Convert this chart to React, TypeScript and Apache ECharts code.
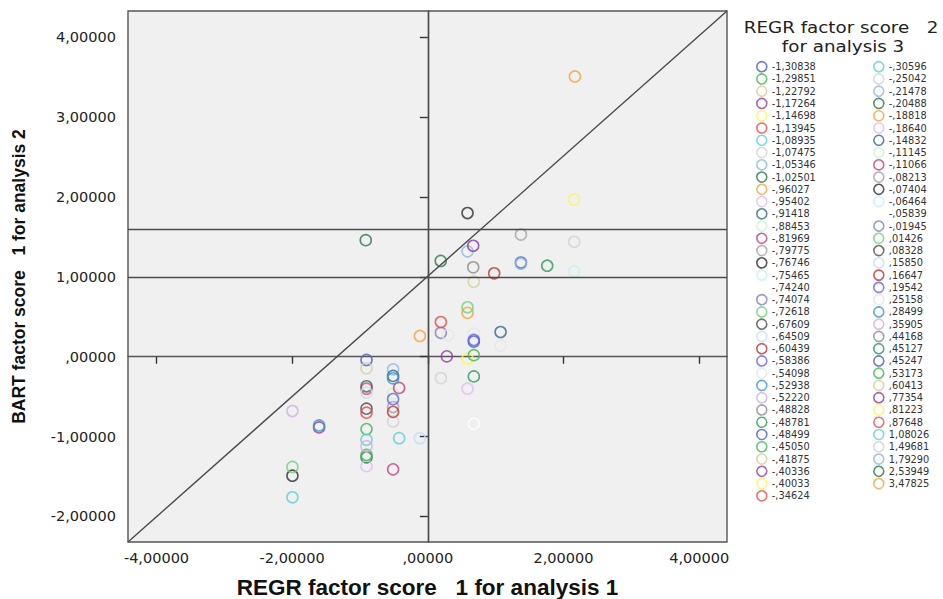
import React, { useEffect, useRef } from "react";
import * as echarts from "echarts";

// Legend groups (REGR factor score 2 for analysis 3)
const groupLabels: string[] = [
  "-1,30838", "-1,29851", "-1,22792", "-1,17264", "-1,14698", "-1,13945", "-1,08935", "-1,07475",
  "-1,05346", "-1,02501", "-,96027", "-,95402", "-,91418", "-,88453", "-,81969", "-,79775",
  "-,76746", "-,75465", "-,74240", "-,74074", "-,72618", "-,67609", "-,64509", "-,60439",
  "-,58386", "-,54098", "-,52938", "-,52220", "-,48828", "-,48781", "-,48499", "-,45050",
  "-,41875", "-,40336", "-,40033", "-,34624",
  "-,30596", "-,25042", "-,21478", "-,20488", "-,18818", "-,18640", "-,14832", "-,11145",
  "-,11066", "-,08213", "-,07404", "-,06464", "-,05839", "-,01945", ",01426", ",08328",
  ",15850", ",16647", ",19542", ",25158", ",28499", ",35905", ",44168", ",45127",
  ",45247", ",53173", ",60413", ",77354", ",81223", ",87648", "1,08026", "1,49681",
  "1,79290", "2,53949", "3,47825",
];
const leftColumnCount = 36;

// SPSS marker colour cycle (30 colours)
const groupColors: string[] = [
  "#4a5cc4", "#3cba50", "#d4cf9c", "#8e3c9e", "#f6f65e", "#f04848", "#5ed0d0", "#d2d2d2",
  "#8fb6e6", "#2a7a4a", "#f5a23e", "#e2bcf4", "#2e6a88", "#ccf4cc", "#c4407c", "#a4a4a4",
  "#303030", "#c4f0f0", "#ffffff", "#8282bc", "#6cd47c", "#4e4e4e", "#c6dcf8", "#c03434",
  "#6464f0", "#e6e6e6", "#3a96c6", "#d0b0e0", "#8c8c8c", "#2e9a5c",
];

// Scatter points: group index, x (REGR factor score 1 analysis 1), y (BART factor score 1 analysis 2)
const pointGroup: number[] = [
  0, 1, 2, 3, 4, 5, 6, 7, 8, 9, 10, 11, 12, 13, 14, 15, 16, 17, 18, 19,
  20, 21, 22, 23, 24, 25, 26, 27, 28, 29, 30, 31, 33, 34, 35, 36, 37, 38, 39, 40,
  41, 42, 44, 45, 46, 50, 52, 53, 54, 55, 56, 57, 59, 60, 61, 62, 63, 65, 66, 67,
  68, 69, 70, 42, 25,
];
const pointX: number[] = [
  -0.904, -0.904, -0.904, -1.603, 0.585, -0.904, -0.423, -0.512, -0.512, -0.904,
  -0.118, -0.904, -0.904, -0.512, -0.423, -0.512, -1.996, 2.158, 0.678, 0.192,
  -1.996, -0.904, -0.904, -0.512, -0.512, 0.3, -1.603, -1.996, 0.669, 0.678,
  0.678, -0.904, 0.28, 2.158, -0.904, -0.904, 0.192, 0.585, 0.19, 0.585,
  0.585, 1.072, -0.512, 1.372, 0.585, 0.585, -0.118, 0.978, 0.678, 1.072,
  -0.512, -0.904, 1.76, 1.372, 0.678, 0.678, 0.669, 0.192, -1.996, 2.158,
  1.372, -0.915, 2.168, -0.512, 0.678,
];
const pointY: number[] = [
  -0.04, -0.906, -0.145, -0.885, -0.025, -0.4, -1.02, -0.81, -0.158, -1.26,
  0.26, -1.37, -0.37, -0.46, -0.39, -0.63, -1.49, 1.07, -0.84, 0.3,
  -1.38, -0.65, -0.45, -0.69, -0.53, 0.27, -0.86, -0.68, 1.12, -0.246,
  0.19, -1.23, 0.005, 1.97, -0.7, -1.04, -0.267, 1.32, 1.2, 0.55,
  -0.4, 0.31, -1.41, 1.53, 1.8, 0.62, -1.02, 1.045, 0.21, 0.14,
  -0.27, -1.12, 1.14, 1.18, 0.02, 0.94, 1.39, 0.435, -1.76, 1.44,
  1.165, 1.46, 3.51, -0.24, 0.29,
];

const xTicks: number[] = [-4, -2, 0, 2, 4];
const yTicks: number[] = [-2, -1, 0, 1, 2, 3, 4];
const xRange: number[] = [-4.42, 4.41];
const yRange: number[] = [-2.32, 4.33];
const refHLines: number[] = [1, 1.6];
const refVLines: number[] = [0];
const legendTitleLines: string[] = ["REGR factor score   2", "for analysis 3"];

function fmt(v: number): string {
  let s = v.toFixed(5).replace(".", ",");
  s = s.replace(/^(-?)0,/, "$1,");
  return s;
}

export default function App() {
  const ref = useRef<HTMLDivElement>(null);
  useEffect(() => {
    if (!ref.current) return;
    const chart = echarts.init(ref.current, null, { renderer: "svg" });
    const colorOf = (i: number) => groupColors[i % groupColors.length];

    const scatterSeries = groupLabels.map((name, i) => {
      const data: number[][] = [];
      pointGroup.forEach((g, k) => {
        if (g === i) data.push([pointX[k], pointY[k]]);
      });
      return {
        type: "scatter",
        name,
        data,
        symbol: "circle",
        symbolSize: 11,
        z: 3,
        itemStyle: { color: "transparent", borderColor: colorOf(i), borderWidth: 1.6 },
        emphasis: { disabled: true },
      };
    });

    const legendItem = (name: string, i: number) => ({
      name,
      icon: "circle",
      itemStyle: { color: "transparent", borderColor: colorOf(i), borderWidth: 1.6 },
    });

    const legendCommon = {
      orient: "vertical",
      top: 60.7,
      itemWidth: 10,
      itemHeight: 10,
      itemGap: 0.26,
      padding: 0,
      selectedMode: false,
      textStyle: { fontFamily: "DejaVu Sans", fontSize: 9.8, color: "#333", lineHeight: 12 },
    };

    const lineStyle = { color: "#4a4a4a", width: 1.4, type: "solid" };

    chart.setOption({
      animation: false,
      backgroundColor: "#ffffff",
      grid: {
        left: 128,
        top: 11,
        width: 599,
        height: 531,
        outerBoundsMode: "none",
        containLabel: false,
        show: true,
        backgroundColor: "#f0f0f0",
        borderColor: "#555",
        borderWidth: 1.4,
      },
      xAxis: {
        type: "value",
        min: xRange[0],
        max: xRange[1],
        name: "REGR factor score   1 for analysis 1",
        nameLocation: "middle",
        nameGap: 34,
        nameTextStyle: { fontFamily: "Liberation Sans", fontWeight: "bold", fontSize: 22.5, color: "#111" },
        axisLine: { show: true, lineStyle: { color: "#555", width: 1.4 } },
        axisTick: { show: true, length: 7, customValues: xTicks, lineStyle: { color: "#333", width: 1.4 } },
        axisLabel: {
          customValues: xTicks,
          formatter: (v: number) => fmt(v),
          fontFamily: "DejaVu Sans",
          fontSize: 14.5,
          color: "#222",
          margin: 8,
        },
        splitLine: { show: false },
      },
      yAxis: {
        type: "value",
        min: yRange[0],
        max: yRange[1],
        name: "BART factor score   1 for analysis 2",
        nameLocation: "middle",
        nameRotate: 90,
        nameGap: 100,
        nameTextStyle: { fontFamily: "Liberation Sans", fontWeight: "bold", fontSize: 17.5, color: "#111" },
        axisLine: { show: true, lineStyle: { color: "#555", width: 1.4 } },
        axisTick: { show: true, length: 8, customValues: yTicks, lineStyle: { color: "#333", width: 1.4 } },
        axisLabel: {
          customValues: yTicks,
          formatter: (v: number) => fmt(v),
          fontFamily: "DejaVu Sans",
          fontSize: 14.5,
          color: "#222",
          margin: 12,
        },
        splitLine: { show: false },
      },
      legend: [
        { ...legendCommon, left: 756, data: groupLabels.slice(0, leftColumnCount).map((n, i) => legendItem(n, i)) },
        {
          ...legendCommon,
          left: 873,
          data: groupLabels.slice(leftColumnCount).map((n, i) => legendItem(n, i + leftColumnCount)),
        },
      ],
      graphic: [
        {
          type: "text",
          x: 841,
          y: 28,
          scaleX: 1.22,
          style: {
            text: legendTitleLines[0],
            fontFamily: "DejaVu Sans",
            fontSize: 15,
            fill: "#222",
            align: "center",
            verticalAlign: "middle",
          },
        },
        {
          type: "text",
          x: 843,
          y: 46.5,
          scaleX: 1.22,
          style: {
            text: legendTitleLines[1],
            fontFamily: "DejaVu Sans",
            fontSize: 15,
            fill: "#222",
            align: "center",
            verticalAlign: "middle",
          },
        },
      ],
      series: [
        {
          type: "line",
          name: "__ref",
          data: [],
          z: 2,
          silent: true,
          markLine: {
            silent: true,
            symbol: ["none", "none"],
            label: { show: false },
            lineStyle,
            emphasis: { disabled: true },
            data: [
              ...refVLines.map((v) => ({ xAxis: v })),
              ...refHLines.map((v) => ({ yAxis: v })),
              [{ coord: [xRange[0], yRange[0]] }, { coord: [xRange[1], yRange[1]] }],
            ],
          },
        },
        ...scatterSeries,
      ],
    });
    return () => chart.dispose();
  }, []);

  return <div ref={ref} style={{ position: "fixed", left: 0, top: 0, width: 943, height: 599 }} />;
}
